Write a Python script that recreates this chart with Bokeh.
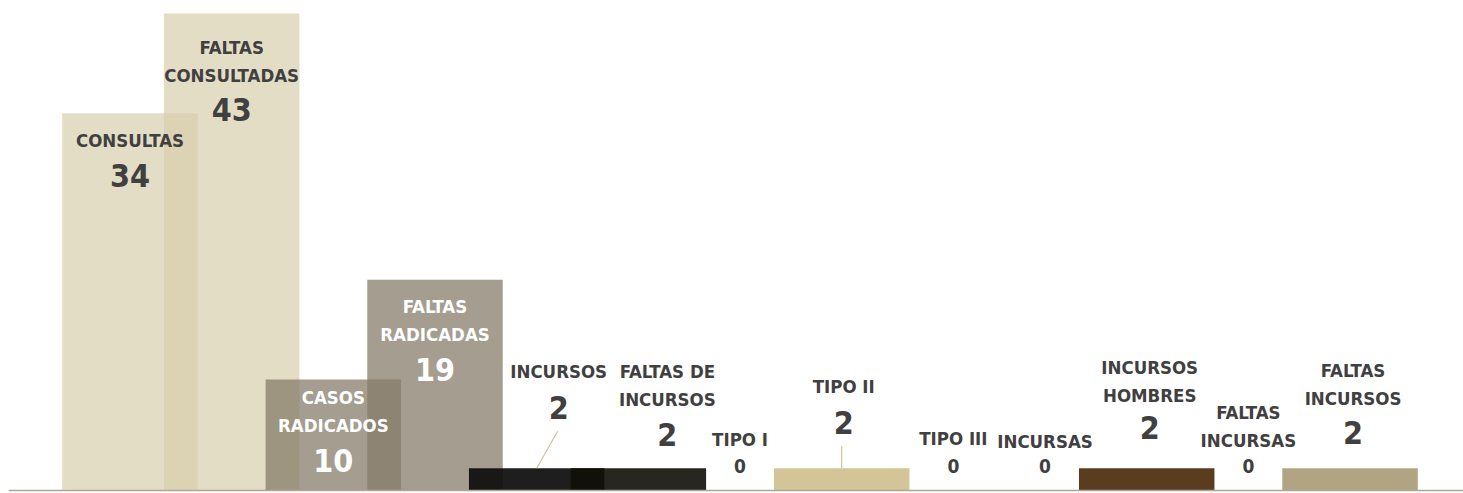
from bokeh.plotting import figure
from bokeh.models import ColumnDataSource, Span, Range1d
from bokeh.core.properties import value
from bokeh.embed import file_html
from bokeh.resources import INLINE

# ---------------- data ----------------
categories = ["CONSULTAS", "FALTAS\nCONSULTADAS", "CASOS\nRADICADOS", "FALTAS\nRADICADAS",
              "INCURSOS", "FALTAS DE\nINCURSOS", "TIPO I", "TIPO II", "TIPO III",
              "INCURSAS", "INCURSOS\nHOMBRES", "FALTAS\nINCURSAS", "FALTAS\nINCURSOS"]
counts = [34, 43, 10, 19, 2, 2, 0, 2, 0, 0, 2, 0, 2]

# ---------------- styles ----------------
bar_colors = ["#d8ceac", "#d8ceac", "#877c6a", "#877c6a", "#111010", "#100e09", "#d3c597",
              "#d3c597", "#d3c597", "#d3c597", "#5a3d1f", "#b0a482", "#b0a482"]
bar_alphas = [0.7, 0.7, 0.75, 0.75, 0.94, 0.9, 1, 1, 1, 1, 1, 1, 1]
label_colors = ["#404040", "#404040", "#ffffff", "#ffffff"] + ["#404040"] * 9
# label placement in screen pixels relative to bar top: (dx, first name line dy, value dy)
label_layout = [(0, 27, 62), (0, 34, 96), (0, 18, 81), (0, 27, 89.5), (22, -97, -60.5),
                (29, -97, -34), (0, -51.5, -25), (2, -82, -45.5), (10, -52, -25),
                (0, -49.5, -25), (3, -101, -40.5), (0, -78.5, -25), (3, -97.5, -35.5)]
# leader lines: category index -> (dx, dy) of the upper end, pixels from bar top centre
leaders = {4: (21, -37), 7: (0, -22)}
LINE_STEP = 28
FONT = "'Liberation Sans Narrow', 'Arial Narrow', 'DejaVu Sans Condensed', 'Liberation Sans', sans-serif"
NAME_SIZE = "18.5px"
BIG_SIZE = "32px"
SMALL_SIZE = "19px"

# ---------------- geometry (page pixels) ----------------
W, H = 1463, 493
LEFT = 8
first_center, spacing = 129.5, 101.67
baseline_px = 490
top_px_max = 13
px_per_x = spacing
px_per_y = (baseline_px - top_px_max) / max(counts)
x_start = (LEFT - first_center) / spacing
x_end = (W - first_center) / spacing
y_start = -(H - baseline_px) / px_per_y
y_end = baseline_px / px_per_y
bar_w = 135.5 / spacing

p = figure(width=W, height=H, output_backend="svg", toolbar_location=None,
           x_range=Range1d(x_start, x_end), y_range=Range1d(y_start, y_end),
           min_border_left=LEFT, min_border_right=0, min_border_top=0, min_border_bottom=0)
p.xaxis.visible = False
p.yaxis.visible = False
p.xgrid.visible = False
p.ygrid.visible = False
p.outline_line_color = None
p.background_fill_color = "#ffffff"
p.border_fill_color = "#ffffff"

idx = list(range(len(categories)))
bars = ColumnDataSource(dict(x=idx, top=counts, color=bar_colors, alpha=bar_alphas))
p.vbar(x="x", top="top", bottom=0, width=bar_w, source=bars,
       fill_color="color", fill_alpha="alpha", line_color=None)

p.add_layout(Span(location=0, dimension="width", line_color="#aca696", line_width=1.5))

# leader lines
lx0, ly0, lx1, ly1 = [], [], [], []
for i, (dx, dy) in leaders.items():
    lx0.append(i); ly0.append(counts[i])
    lx1.append(i + dx / px_per_x); ly1.append(counts[i] - dy / px_per_y)
p.segment(x0=lx0, y0=ly0, x1=lx1, y1=ly1, line_color="#cfc199", line_width=1.2)

# labels
nx, ny, ntext, ndx, ndy, ncol = [], [], [], [], [], []
vx, vy, vtext, vdx, vdy, vcol, vsize = [], [], [], [], [], [], []
for i, (name, c) in enumerate(zip(categories, counts)):
    dx, ndy0, vdy0 = label_layout[i]
    for k, line in enumerate(name.split("\n")):
        nx.append(i); ny.append(c); ntext.append(line)
        ndx.append(dx); ndy.append(ndy0 + k * LINE_STEP); ncol.append(label_colors[i])
    vx.append(i); vy.append(c); vtext.append(str(c))
    vdx.append(dx); vdy.append(vdy0); vcol.append(label_colors[i])
    vsize.append(BIG_SIZE if c > 0 else SMALL_SIZE)

p.text(x="x", y="y", text="text", x_offset="dx", y_offset="dy", text_color="color",
       source=ColumnDataSource(dict(x=nx, y=ny, text=ntext, dx=ndx, dy=ndy, color=ncol)),
       text_font=value(FONT), text_font_style="bold", text_font_size=NAME_SIZE,
       text_align="center", text_baseline="middle")
p.text(x="x", y="y", text="text", x_offset="dx", y_offset="dy", text_color="color",
       text_font_size="size",
       source=ColumnDataSource(dict(x=vx, y=vy, text=vtext, dx=vdx, dy=vdy, color=vcol, size=vsize)),
       text_font=value(FONT), text_font_style="bold",
       text_align="center", text_baseline="middle")

open("out.html", "w").write(file_html(p, INLINE))
